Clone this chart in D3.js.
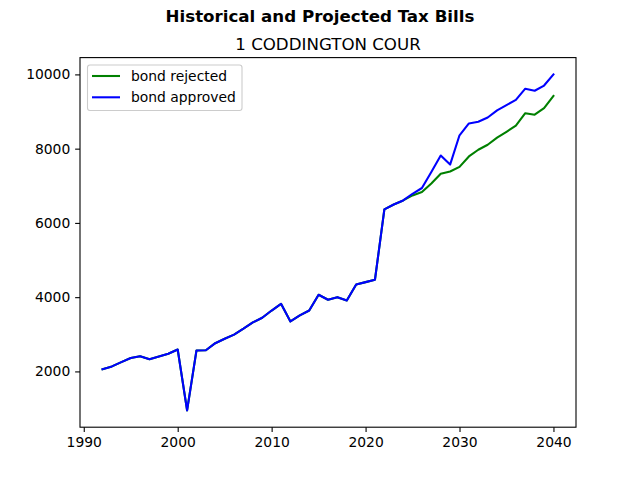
<!DOCTYPE html>
<html><head><meta charset="utf-8">
<script src="https://cdn.jsdelivr.net/npm/d3@7"></script>
<style>body{margin:0;background:#fff}svg{display:block}text{font-family:"DejaVu Sans",sans-serif}</style>
</head><body><svg id="c" width="640" height="480"></svg>
<script>
const years = d3.range(1992, 2041);
const historical = [2060,2135,2250,2360,2410,2330,2400,2475,2590,950,2565,2570,2760,2880,2990,3150,3320,3445,3640,3820,3345,3510,3640,4065,3930,4000,3910,4340,4405,4470,6365,6495,6605];
const rejectedProj = [6740,6830,7060,7325,7385,7510,7790,7970,8105,8295,8455,8620,8955,8915,9090,9420];
const approvedProj = [6785,6940,7370,7815,7570,8360,8680,8725,8840,9030,9175,9315,9615,9560,9700,10000];
const bondRejected = historical.concat(rejectedProj);
const bondApproved = historical.concat(approvedProj);
const seriesNames = ["bond rejected","bond approved"];
const colors = ["#008000","#0000ff"];
const xTicks = [1990,2000,2010,2020,2030,2040];
const yTicks = [2000,4000,6000,8000,10000];

const svg = d3.select("#c");
const L=80, R=576, T=57.6, B=427.2;
const allV = bondRejected.concat(bondApproved);
const vmin=d3.min(allV), vmax=d3.max(allV), xm=(2040-1992)*0.05, ym=(vmax-vmin)*0.05;
const x = d3.scaleLinear().domain([1992-xm, 2040+xm]).range([L,R]);
const y = d3.scaleLinear().domain([vmin-ym, vmax+ym]).range([B,T]);

svg.append("text").attr("x",320).attr("y",22).attr("text-anchor","middle").attr("font-size",16.67).attr("font-weight","bold").text("Historical and Projected Tax Bills");
svg.append("text").attr("x",(L+R)/2).attr("y",49.5).attr("text-anchor","middle").attr("font-size",16.67).text("1 CODDINGTON COUR");

const line = d3.line().x((d,i)=>x(years[i])).y(d=>y(d));
[bondRejected,bondApproved].forEach((s,k)=>{
  svg.append("path").datum(s).attr("d",line).attr("fill","none").attr("stroke",colors[k]).attr("stroke-width",2.08).attr("stroke-linejoin","round").attr("stroke-linecap","square");
});

const xa = svg.append("g").attr("transform",`translate(0,${B})`).call(d3.axisBottom(x).tickValues(xTicks).tickFormat(d3.format("d")).tickSize(4.86).tickPadding(4.86));
const ya = svg.append("g").attr("transform",`translate(${L},0)`).call(d3.axisLeft(y).tickValues(yTicks).tickFormat(d3.format("d")).tickSize(4.86).tickPadding(4.86));
[xa,ya].forEach(a=>{a.select(".domain").remove();a.selectAll("line").attr("stroke","#000").attr("stroke-width",1.1);a.selectAll("text").attr("font-size",13.89).attr("fill","#000").attr("font-family","DejaVu Sans");});
svg.append("rect").attr("x",L).attr("y",T).attr("width",R-L).attr("height",B-T).attr("fill","none").attr("stroke","#000").attr("stroke-width",1.1);

const lg = svg.append("g");
lg.append("rect").attr("x",87.5).attr("y",65).attr("width",154.5).attr("height",45.5).attr("rx",2.5).attr("fill","#fff").attr("fill-opacity",0.8).attr("stroke","#cccccc").attr("stroke-width",1.1);
seriesNames.forEach((n,k)=>{
  const cy = 76 + k*21.3;
  lg.append("line").attr("x1",92).attr("x2",120).attr("y1",cy).attr("y2",cy).attr("stroke",colors[k]).attr("stroke-width",2.08);
  lg.append("text").attr("x",131).attr("y",cy+4.9).attr("font-size",13.89).text(n);
});
</script></body></html>
